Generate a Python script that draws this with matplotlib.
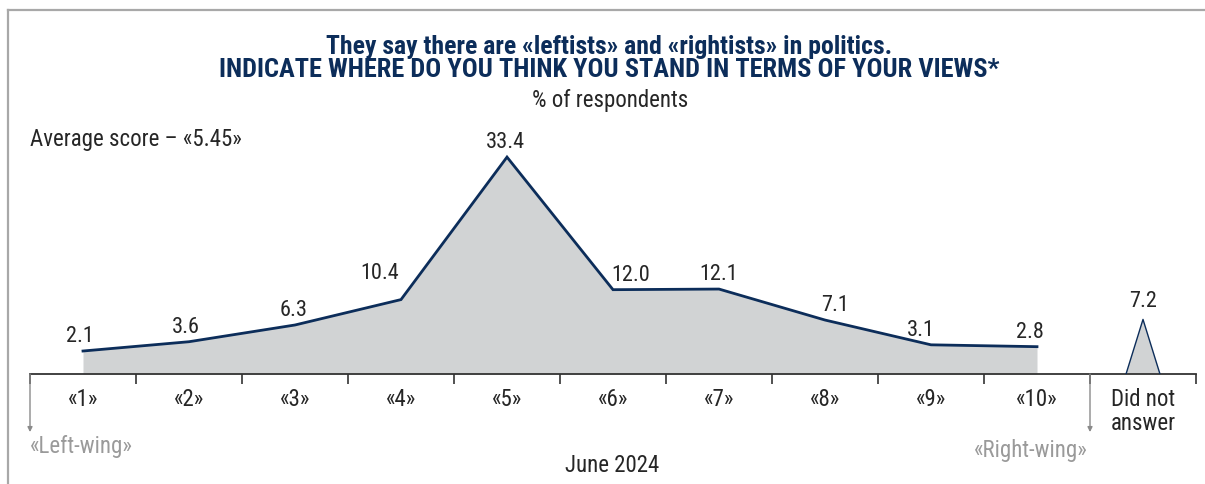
import matplotlib
matplotlib.use("Agg")
import matplotlib.pyplot as plt
from matplotlib import font_manager
from matplotlib.lines import Line2D
import numpy as np

# Survey data
categories = ["«1»", "«2»", "«3»", "«4»", "«5»", "«6»", "«7»", "«8»", "«9»", "«10»"]
values = [2.1, 3.6, 6.3, 10.4, 33.4, 12.0, 12.1, 7.1, 3.1, 2.8]
no_answer_label = "Did not\nanswer"
no_answer_value = 7.2

title_line1 = "They say there are «leftists» and «rightists» in politics."
title_line2 = "INDICATE WHERE DO YOU THINK YOU STAND IN TERMS OF YOUR VIEWS*"
subtitle = "% of respondents"
average_note = "Average score – «5.45»"
period = "June 2024"

NAVY = "#0c2d5a"
FILL = "#d1d3d4"
GREY_TXT = "#9a9a9a"
TXT = "#262626"

# pick a condensed sans family that is available
available = {f.name for f in font_manager.fontManager.ttflist}
candidates = ["Roboto Condensed", "Fira Sans Condensed", "IBM Plex Sans Condensed",
              "Barlow Semi Condensed", "PT Sans Narrow", "Archivo Narrow",
              "Liberation Sans Narrow", "Roboto"]
base = next((c for c in candidates if c in available), "DejaVu Sans")
FONT = [base, "DejaVu Sans"]
plt.rcParams["font.family"] = FONT
BODY = 16.5
NUM = 16
TW = "normal"

W, H = 1205, 484
fig = plt.figure(figsize=(W / 100, H / 100), dpi=100)

# frame lines along the top and left edge
fig.add_artist(Line2D([8 / W, 8 / W], [0, 1 - 10 / H], transform=fig.transFigure,
                      color="#a8a8a8", lw=1.6))
fig.add_artist(Line2D([8 / W, 1], [1 - 10 / H, 1 - 10 / H], transform=fig.transFigure,
                      color="#a8a8a8", lw=1.6))

ax_left, ax_right = 30 / W, 1196 / W
ax_bottom = (H - 374) / H
ax_top = (H - 110) / H
ax = fig.add_axes([ax_left, ax_bottom, ax_right - ax_left, ax_top - ax_bottom])

y_min, y_max = -1.61, 41.0
ax.set_xlim(-0.5, len(categories) + 0.5)
ax.set_ylim(y_min, y_max)

x = np.arange(len(categories))
ax.fill_between(x, y_min, values, color=FILL, lw=0, zorder=1)
ax.plot(x, values, color=NAVY, lw=2.0, zorder=3, solid_joinstyle="miter")

# label offsets (points) so labels clear the line
label_dx = [-2, -2, -1, -15, -1, 13, 0, 7, -7, -5]
label_dy = [3, 3, 3, 11, 3, 3, 3, 3, 3, 3]
for xi, v, dx, dy in zip(x, values, label_dx, label_dy):
    ax.annotate(f"{v:.1f}", (xi, v), xytext=(dx, dy), textcoords="offset points",
                ha="center", va="bottom", fontsize=NUM, color=TXT, fontweight=TW)

# "Did not answer" spike
xn = len(categories)
half = 0.16
tri_x = [xn - half, xn, xn + half]
tri_y = [y_min, no_answer_value, y_min]
ax.fill(tri_x, tri_y, color=FILL, lw=0, zorder=1)
ax.plot(tri_x, tri_y, color=NAVY, lw=1.0, zorder=3)
ax.annotate(f"{no_answer_value:.1f}", (xn, no_answer_value), xytext=(0, 5),
            textcoords="offset points", ha="center", va="bottom", fontsize=NUM,
            color=TXT, fontweight=TW)

# axis styling
for s in ["top", "right", "left"]:
    ax.spines[s].set_visible(False)
ax.spines["bottom"].set_color("#333333")
ax.spines["bottom"].set_linewidth(1.3)
ax.set_yticks([])
ax.set_xticks(np.arange(-0.5, len(categories) + 1, 1.0))
ax.set_xticklabels([])
ax.tick_params(axis="x", direction="out", length=7, width=1.2, color="#333333")
for xi, lab in enumerate(categories + [no_answer_label]):
    ax.annotate(lab, (xi, 0), xycoords=("data", "axes fraction"), xytext=(0, -10),
                textcoords="offset points", ha="center", va="top", fontsize=BODY,
                color=TXT, linespacing=1.05, fontweight=TW)
ax.set_facecolor("none")

# scale-end arrows
for xa in (-0.5, len(categories) - 0.5):
    ax.annotate("", xy=(xa, -0.22), xycoords=("data", "axes fraction"),
                xytext=(xa, 0), textcoords=("data", "axes fraction"),
                arrowprops=dict(arrowstyle="-|>", color="#8a8a8a", lw=1.0,
                                mutation_scale=7, shrinkA=0, shrinkB=0),
                annotation_clip=False)

fig.text(30 / W, 1 - 446 / H, "«Left-wing»", ha="left", va="center", fontsize=BODY,
         color=GREY_TXT, fontweight=TW)
fig.text(1088 / W, 1 - 450 / H, "«Right-wing»", ha="right", va="center", fontsize=BODY,
         color=GREY_TXT, fontweight=TW)

fig.text(609 / W, 1 - 47 / H, title_line1, ha="center", va="center", fontsize=18.5,
         fontweight="bold", color=NAVY)
fig.text(609 / W, 1 - 70 / H, title_line2, ha="center", va="center", fontsize=19,
         fontweight="bold", color=NAVY)
fig.text(610 / W, 1 - 100 / H, subtitle, ha="center", va="center", fontsize=BODY,
         color=TXT, fontweight=TW)
fig.text(30 / W, 1 - 140 / H, average_note, ha="left", va="center", fontsize=BODY,
         color=TXT, fontweight=TW)
fig.text(612 / W, 1 - 466 / H, period, ha="center", va="center", fontsize=BODY,
         color=TXT, fontweight=TW)

fig.savefig("out.png", dpi=100, facecolor="white")
